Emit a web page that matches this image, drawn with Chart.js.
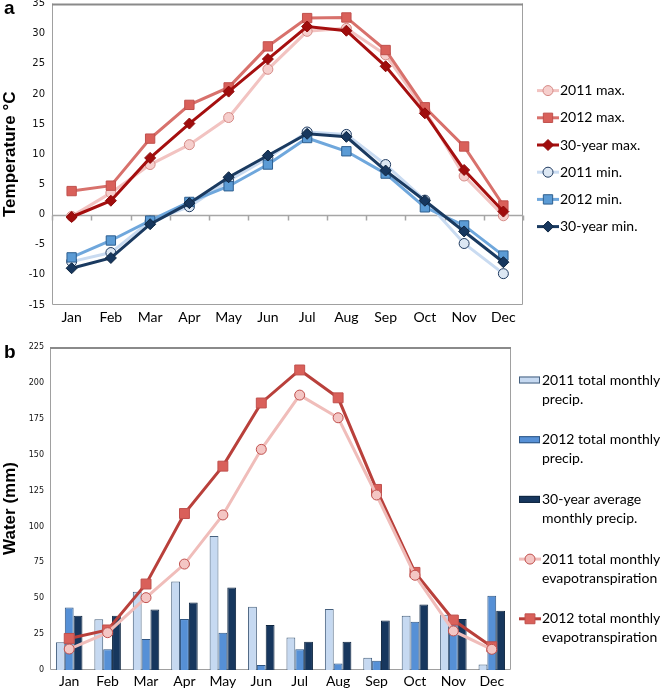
<!DOCTYPE html>
<html>
<head>
<meta charset="utf-8">
<script src="https://cdn.jsdelivr.net/npm/chart.js@4.4.1/dist/chart.umd.min.js"></script>
<style>
  body { margin: 0; background: #fff; }
  #wrap { position: relative; width: 661px; height: 689px; overflow: hidden; }
  .panel { position: absolute; left: 0; width: 661px; }
  #top { top: -4px; height: 334px; }
  #bottom { top: 330px; height: 359px; }
  .tag { position: absolute; left: 4px; font: bold 19px "Liberation Sans", Arial, sans-serif; line-height: 1; }
</style>
</head>
<body>
<div id="wrap">
  <div class="panel" id="top"><canvas id="tempChart"></canvas></div>
  <div class="panel" id="bottom"><canvas id="waterChart"></canvas></div>
  <div class="tag" style="top:-2px">a</div>
  <div class="tag" style="top:342px">b</div>
</div>
<script>
// months shared by both panels
const months = ["Jan", "Feb", "Mar", "Apr", "May", "Jun", "Jul", "Aug", "Sep", "Oct", "Nov", "Dec"];

// panel a: temperature, °C
const tempTicks = [-15, -10, -5, 0, 5, 10, 15, 20, 25, 30, 35];
const max2011 = [-0.3, 3.6, 8.3, 11.6, 16.1, 24.1, 30.4, 30.9, 26.5, 17.3, 6.4, -0.2];
const max2012 = [3.9, 4.8, 12.6, 18.2, 21.1, 27.9, 32.6, 32.7, 27.3, 17.8, 11.3, 1.5];
const max30yr = [-0.4, 2.3, 9.4, 15.1, 20.4, 25.8, 31.2, 30.5, 24.6, 16.8, 7.4, 0.5];
const min2011 = [-7.8, -6.3, -1.1, 1.3, 5.6, 9.4, 13.7, 13.3, 8.3, 2.4, -4.8, -9.8];
const min2012 = [-7.1, -4.3, -1.0, 2.1, 4.7, 8.3, 12.7, 10.5, 6.8, 1.2, -1.8, -6.8];
const min30yr = [-8.9, -7.2, -1.6, 1.9, 6.2, 9.8, 13.4, 12.9, 7.3, 2.3, -2.8, -7.9];

// panel b: water, mm
const waterTicks = [0, 25, 50, 75, 100, 125, 150, 175, 200, 225];
const precip2011 = [19.3, 35.3, 54.5, 61.7, 93.3, 44.1, 22.7, 42.5, 8.6, 37.8, 38.5, 3.9];
const precip2012 = [43.6, 14.4, 21.6, 35.5, 26.0, 3.5, 14.4, 4.6, 6.5, 33.6, 34.0, 51.8];
const precip30yr = [37.8, 37.8, 42.2, 47.1, 57.5, 31.3, 19.7, 19.7, 34.4, 45.7, 35.5, 41.3];
const et2011 = [14.6, 26.0, 50.4, 73.8, 108, 153.7, 191.5, 175.7, 121.9, 66.0, 27.2, 14.4];
const et2012 = [22.0, 27.9, 59.9, 109, 142, 186, 209, 189.6, 125.8, 68.0, 34.8, 16.2];

const tickFont = { family: "DejaVu Sans", size: 10 };
const catFont = { family: "Lato", size: 14 };
const titleFont = { family: "Liberation Sans", size: 17, weight: "bold" };

function drawMarker(ctx, style, x, y, r, fill, stroke) {
  ctx.beginPath();
  if (style === "circle") ctx.arc(x, y, r, 0, Math.PI * 2);
  else if (style === "rect") { const s = r * Math.SQRT1_2; ctx.rect(x - s, y - s, 2 * s, 2 * s); }
  else { ctx.moveTo(x - r, y); ctx.lineTo(x, y - r); ctx.lineTo(x + r, y); ctx.lineTo(x, y + r); ctx.closePath(); }
  ctx.fillStyle = fill; ctx.fill();
  ctx.lineWidth = 1; ctx.strokeStyle = stroke; ctx.stroke();
}

// plot frame, plus the zero line with tick marks for panel a
const framePlugin = {
  id: "frame",
  beforeDatasetsDraw(chart, args, opts) {
    const { ctx, chartArea: a, scales } = chart;
    ctx.save();
    ctx.strokeStyle = "#a0a0a0";
    ctx.lineWidth = 1;
    ctx.beginPath();
    ctx.moveTo(a.left + 0.5, a.top); ctx.lineTo(a.left + 0.5, a.bottom - 0.5);
    ctx.lineTo(a.right - 0.5, a.bottom - 0.5); ctx.lineTo(a.right - 0.5, a.top);
    ctx.stroke();
    ctx.strokeStyle = "#8a8a8a";
    ctx.lineWidth = 2;
    ctx.beginPath(); ctx.moveTo(a.left, a.top + 1); ctx.lineTo(a.right, a.top + 1); ctx.stroke();
    if (opts.zeroLine) {
      const y0 = Math.round(scales.y.getPixelForValue(0)) + 0.5;
      const half = (scales.x.getPixelForValue(1) - scales.x.getPixelForValue(0)) / 2;
      ctx.strokeStyle = "#a6a6a6";
      ctx.lineWidth = 1.5;
      ctx.beginPath(); ctx.moveTo(a.left, y0); ctx.lineTo(a.right, y0);
      for (let i = 0; i <= months.length; i++) {
        const x = Math.round(scales.x.getPixelForValue(i) - half) + 0.5;
        ctx.moveTo(x, y0); ctx.lineTo(x, y0 + 5);
      }
      ctx.stroke();
    }
    ctx.restore();
  }
};

// legend to the right of the plot, drawn from the datasets
const sideLegend = {
  id: "sideLegend",
  afterDraw(chart, args, opts) {
    const { ctx, chartArea: a } = chart;
    ctx.save();
    ctx.font = "14px Lato";
    ctx.textBaseline = "middle";
    chart.data.datasets.forEach((ds, i) => {
      const x = a.right + opts.dx;
      const y = a.top + opts.dy + i * opts.gap;
      if (ds.type === "bar") {
        ctx.fillStyle = ds.backgroundColor;
        ctx.fillRect(x, y - 3.5, 21, 7);
        ctx.strokeStyle = ds.borderColor; ctx.lineWidth = 1;
        ctx.strokeRect(x + 0.5, y - 3, 20, 6);
      } else {
        ctx.strokeStyle = ds.borderColor; ctx.lineWidth = ds.borderWidth;
        ctx.beginPath(); ctx.moveTo(x, y); ctx.lineTo(x + 22, y); ctx.stroke();
        drawMarker(ctx, ds.pointStyle, x + 11, y, ds.pointRadius, ds.pointBackgroundColor, ds.pointBorderColor);
      }
      ctx.fillStyle = "#000";
      ds.label.split("\n").forEach((line, k) => ctx.fillText(line, x + 23, y + k * 19));
    });
    ctx.restore();
  }
};

function lineSet(label, data, line, fill, edge, style, r, order) {
  return {
    type: "line", label, data, order,
    borderColor: line, borderWidth: 3, backgroundColor: line,
    pointStyle: style, pointRadius: r, pointHoverRadius: r,
    pointBackgroundColor: fill, pointBorderColor: edge, pointBorderWidth: 1
  };
}

new Chart(document.getElementById("tempChart"), {
  type: "line",
  data: {
    labels: months,
    datasets: [
      lineSet("2011 max.", max2011, "#f2c3c1", "#f6cfcd", "#d58a86", "circle", 5, 2),
      lineSet("2012 max.", max2012, "#d8716c", "#d9605a", "#c0504d", "rect", 6.6, 1),
      lineSet("30-year max.", max30yr, "#a50f0f", "#a00d0d", "#8c0a0a", "rectRot", 5.5, 0),
      lineSet("2011 min.", min2011, "#c9dbf1", "#dce7f3", "#1f3a5f", "circle", 5, 2),
      lineSet("2012 min.", min2012, "#6fa7dc", "#5b9bd5", "#2e5f8f", "rect", 6.6, 1),
      lineSet("30-year min.", min30yr, "#1a3a60", "#17375e", "#0f2640", "rectRot", 5.5, 0)
    ]
  },
  options: {
    responsive: true, maintainAspectRatio: false, animation: false,
    layout: { padding: { top: 0, right: 138, left: 0, bottom: 0 } },
    plugins: {
      legend: { display: false }, tooltip: { enabled: false },
      frame: { zeroLine: true },
      sideLegend: { dx: 14, dy: 87, gap: 27.2 }
    },
    scales: {
      x: {
        offset: true,
        grid: { display: false, drawTicks: false }, border: { display: false },
        ticks: { font: catFont, color: "#000", padding: 4, maxRotation: 0 },
        afterFit(s) { s.height = 25; s.paddingLeft = 0; s.paddingRight = 0; }
      },
      y: {
        min: -15, max: 35,
        grid: { display: false, drawTicks: false }, border: { display: false },
        ticks: { font: tickFont, color: "#111", padding: 7 },
        afterBuildTicks(s) { s.ticks = tempTicks.map(v => ({ value: v })); },
        afterFit(s) { s.width = 52; s.paddingTop = 0; s.paddingBottom = 0; },
        title: { display: true, text: "Temperature °C", font: titleFont, color: "#000", padding: 0 }
      }
    }
  },
  plugins: [framePlugin, sideLegend]
});

function barSet(label, data, fill, edge) {
  return { type: "bar", label, data, order: 1, backgroundColor: fill, borderColor: edge, borderWidth: 1,
           categoryPercentage: 0.69, barPercentage: 1.0 };
}

new Chart(document.getElementById("waterChart"), {
  type: "bar",
  data: {
    labels: months,
    datasets: [
      barSet("2011 total monthly\nprecip.", precip2011, "#c6d9f1", "#46607e"),
      barSet("2012 total monthly\nprecip.", precip2012, "#5690d6", "#2f5683"),
      barSet("30-year average\nmonthly precip.", precip30yr, "#17375e", "#0f2640"),
      lineSet("2011 total monthly\nevapotranspiration", et2011, "#f0bdba", "#f4c6c4", "#c0504d", "circle", 5, 0),
      lineSet("2012 total monthly\nevapotranspiration", et2012, "#b9403b", "#d9605a", "#c0504d", "rect", 7, 0)
    ]
  },
  options: {
    responsive: true, maintainAspectRatio: false, animation: false,
    layout: { padding: { top: 17, right: 150, left: 0, bottom: 0 } },
    plugins: {
      legend: { display: false }, tooltip: { enabled: false },
      frame: { zeroLine: false },
      sideLegend: { dx: 8, dy: 33, gap: 59.7 }
    },
    scales: {
      x: {
        grid: { display: false, drawTicks: false }, border: { display: false },
        ticks: { font: catFont, color: "#000", padding: 3, maxRotation: 0 },
        afterFit(s) { s.height = 19; s.paddingLeft = 0; s.paddingRight = 0; }
      },
      y: {
        min: 0, max: 225,
        grid: { display: false, drawTicks: false }, border: { display: false },
        ticks: { font: { family: "DejaVu Sans", size: 8 }, color: "#111", padding: 6 },
        afterBuildTicks(s) { s.ticks = waterTicks.map(v => ({ value: v })); },
        afterFit(s) { s.width = 50; s.paddingTop = 0; s.paddingBottom = 0; },
        title: { display: true, text: "Water (mm)", font: titleFont, color: "#000", padding: 0 }
      }
    }
  },
  plugins: [framePlugin, sideLegend]
});
</script>
</body>
</html>
